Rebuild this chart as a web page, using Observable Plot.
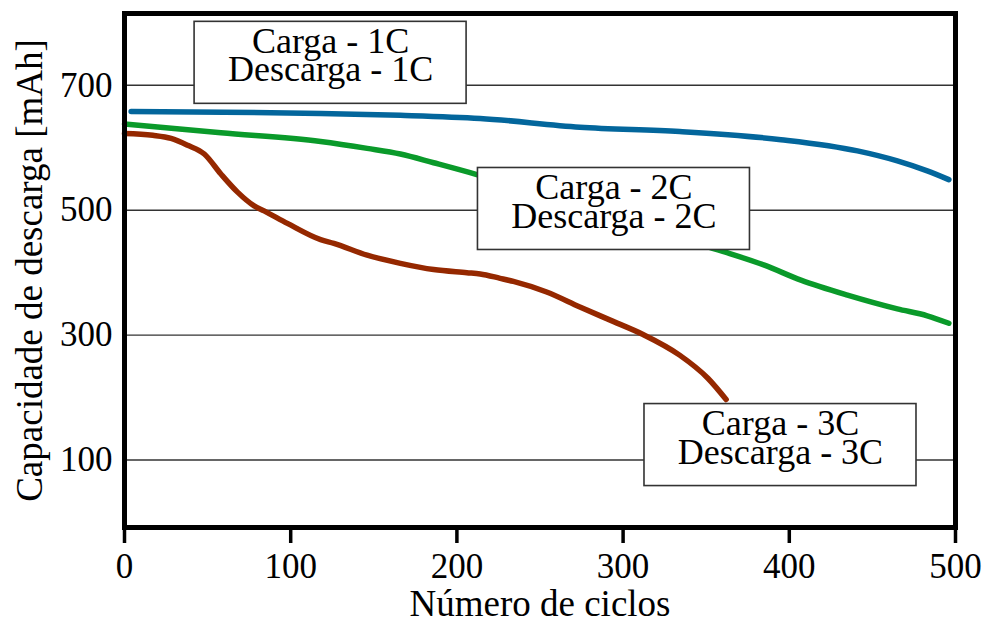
<!DOCTYPE html>
<html>
<head>
<meta charset="utf-8">
<script src="https://cdn.jsdelivr.net/npm/d3@7"></script>
<script src="https://cdn.jsdelivr.net/npm/@observablehq/plot@0.6"></script>
<style>
  html, body { margin: 0; padding: 0; background: #fff; }
  #chart { width: 982px; height: 620px; }
</style>
</head>
<body>
<div id="chart"></div>
<script>
// ---- data ----
const cycles1C = [4, 60, 118, 166, 214, 274, 334, 395, 441, 465, 483, 496];
const capacity1C = [658, 657, 655, 652, 647, 633, 626, 613, 595, 579, 563, 549];

const cycles2C = [0, 58, 118, 146, 166, 186, 212, 250, 300, 360, 385, 407, 435, 465, 483, 496];
const capacity2C = [638, 624, 610, 599, 590, 576, 557, 525, 482, 434, 412, 388, 364, 342, 331, 319];

const cycles3C = [0, 17, 28, 38, 48, 58, 68, 78, 84, 98, 118, 126, 146, 166, 186, 206, 214, 226, 234, 254, 274, 294, 312, 334, 351, 362];
const capacity3C = [623, 620, 615, 604, 590, 558, 529, 507, 499, 479, 453, 447, 428, 415, 405, 400, 398, 391, 386, 369, 345, 322, 301, 268, 231, 197];

const seriesNames = ["1C", "2C", "3C"];
const seriesColors = ["#03669c", "#0a9a2a", "#952800"];

const labelTexts = ["Carga - 1C\nDescarga - 1C", "Carga - 2C\nDescarga - 2C", "Carga - 3C\nDescarga - 3C"];
const labelCycles = [124, 294.5, 394.7];
const labelCapacities = [736, 502, 124];

const xTicks = [0, 100, 200, 300, 400, 500];
const yTicks = [100, 300, 500, 700];

const xTitle = "Número de ciclos";
const yTitle = "Capacidade de descarga [mAh]";

// ---- build tables ----
const rows = [
  ...cycles1C.map((c, i) => ({series: "1C", cycle: c, cap: capacity1C[i]})),
  ...cycles2C.map((c, i) => ({series: "2C", cycle: c, cap: capacity2C[i]})),
  ...cycles3C.map((c, i) => ({series: "3C", cycle: c, cap: capacity3C[i]}))
];
const labels = labelTexts.map((t, i) => ({text: t, cycle: labelCycles[i], cap: labelCapacities[i]}));

const FONT = "'Liberation Serif', 'DejaVu Serif', serif";
const BOX_W = 272, BOX_H = 82;

const boxes = (index, scales) => {
  const g = d3.create("svg:g");
  for (const l of labels) {
    g.append("rect")
      .attr("x", scales.x(l.cycle) - BOX_W / 2)
      .attr("y", scales.y(l.cap) - BOX_H / 2)
      .attr("width", BOX_W)
      .attr("height", BOX_H)
      .attr("fill", "white")
      .attr("stroke", "#333")
      .attr("stroke-width", 1.6);
  }
  return g.node();
};

const plot = Plot.plot({
  width: 982,
  height: 620,
  marginLeft: 124,
  marginRight: 27,
  marginTop: 13,
  marginBottom: 93,
  style: {fontFamily: FONT, fontSize: "35px", background: "white", color: "black"},
  x: {domain: [0, 500]},
  y: {domain: [-8, 815]},
  color: {domain: seriesNames, range: seriesColors},
  marks: [
    Plot.ruleY(yTicks, {stroke: "#333", strokeWidth: 1.4}),
    Plot.line(rows, {
      x: "cycle", y: "cap", z: "series", stroke: "series",
      strokeWidth: 5.5, strokeLinecap: "round", strokeLinejoin: "round",
      curve: "monotone-x"
    }),
    boxes,
    Plot.text(labels, {
      x: "cycle", y: "cap", text: "text",
      fontSize: 36, lineHeight: 0.8, dy: -5, fill: "black"
    }),
    Plot.frame({stroke: "black", strokeWidth: 5}),
    Plot.axisX({ticks: xTicks, tickSize: 16, tickPadding: 10, strokeWidth: 3.5, fontSize: 35, label: null}),
    Plot.axisY({ticks: yTicks, tickSize: 0, tickPadding: 12, fontSize: 35, label: null}),
    Plot.text([xTitle], {frameAnchor: "bottom", textAnchor: "middle", lineAnchor: "middle", dy: 77, fontSize: 37, fill: "black"}),
    Plot.text([yTitle], {frameAnchor: "left", textAnchor: "middle", lineAnchor: "middle", dx: -94, rotate: -90, fontSize: 37, fill: "black"})
  ]
});

document.getElementById("chart").appendChild(plot);
</script>
</body>
</html>
